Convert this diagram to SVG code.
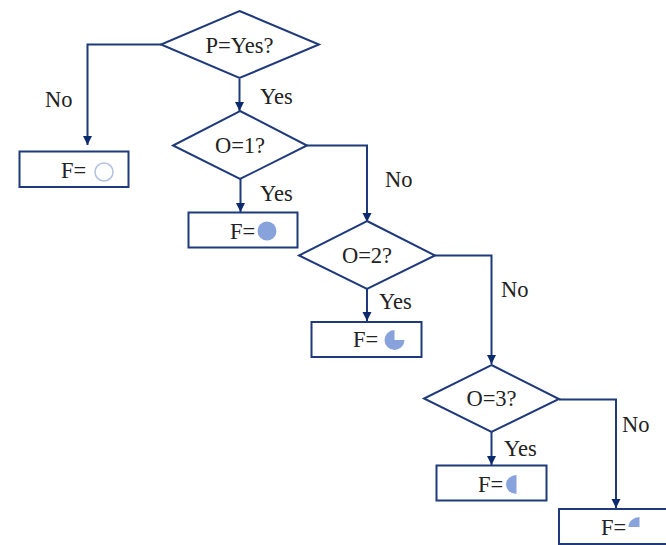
<svg xmlns="http://www.w3.org/2000/svg" width="666" height="545" viewBox="0 0 666 545">
<defs>
<style>
text{font-family:"Liberation Serif","Times New Roman",serif;font-size:22.500px;fill:#222}
.s{fill:#fff;stroke:#1f3a7a;stroke-width:2}
.c{fill:none;stroke:#1f3a7a;stroke-width:2}
.p{fill:#88a3dc}
</style>
<marker id="a" markerUnits="userSpaceOnUse" markerWidth="10" markerHeight="10" refX="9" refY="5" orient="auto"><path d="M0 0.500L9 5L0 9.500Z" fill="#0c2a6e"/></marker>
</defs>
<rect width="666" height="545" fill="#fff"/>
<g id="connectors">
<path class="c" marker-end="url(#a)" d="M161 44.500H87.500V145"/>
<path class="c" marker-end="url(#a)" d="M239.500 79V111"/>
<path class="c" marker-end="url(#a)" d="M240.500 179V212"/>
<path class="c" marker-end="url(#a)" d="M307 145.500H367V222"/>
<path class="c" marker-end="url(#a)" d="M367 289V321"/>
<path class="c" marker-end="url(#a)" d="M435 255.500H491.500V364"/>
<path class="c" marker-end="url(#a)" d="M491.500 432V465"/>
<path class="c" marker-end="url(#a)" d="M559 399.500H616V508"/>
<g id="edge-labels">
<text x="45" y="107">No</text><text x="260" y="104">Yes</text><text x="260" y="201">Yes</text>
<text x="385" y="187">No</text><text x="379" y="309">Yes</text><text x="501" y="297">No</text>
<text x="504" y="456">Yes</text><text x="622" y="432">No</text>
</g>
</g>
<g id="n-p"><path class="s" d="M239.500 11L319 44.500L239.500 78L161 44.500Z"/><text x="239.500" y="53" text-anchor="middle">P=Yes?</text></g>
<g id="n-o1"><path class="s" d="M240 111L307 145.500L240 179L173 145.500Z"/><text x="240" y="153" text-anchor="middle">O=1?</text></g>
<g id="n-o2"><path class="s" d="M367 221L435 255.500L367 289L299 255.500Z"/><text x="367" y="263" text-anchor="middle">O=2?</text></g>
<g id="n-o3"><path class="s" d="M491.500 365L559 399L491.500 432L424 398.500Z"/><text x="491.500" y="406" text-anchor="middle">O=3?</text></g>
<g id="f-empty"><rect class="s" x="19.500" y="151.500" width="109" height="35.500"/><text x="61" y="178">F=</text><circle cx="104" cy="172" r="9" fill="#fff" stroke="#b4c0e2" stroke-width="1.500"/></g>
<g id="f-full"><rect class="s" x="188.500" y="212.500" width="109" height="35"/><text x="230" y="239">F=</text><circle class="p" cx="267" cy="231" r="9.500"/></g>
<g id="f-three"><rect class="s" x="311.500" y="322" width="110" height="35"/><text x="353" y="347">F=</text><path class="p" d="M394.500 330A10 10 0 1 0 404.500 340H394.500Z"/></g>
<g id="f-half"><rect class="s" x="436.500" y="465.500" width="110" height="35"/><text x="478" y="492">F=</text><path class="p" d="M516.500 475A10.500 9.500 0 0 0 516.500 494Z"/></g>
<g id="f-quarter"><rect class="s" x="559" y="509" width="110" height="35"/><text x="601" y="535">F=</text><path class="p" d="M639.500 517A11 10 0 0 0 628.500 527H639.500Z"/></g>
</svg>
